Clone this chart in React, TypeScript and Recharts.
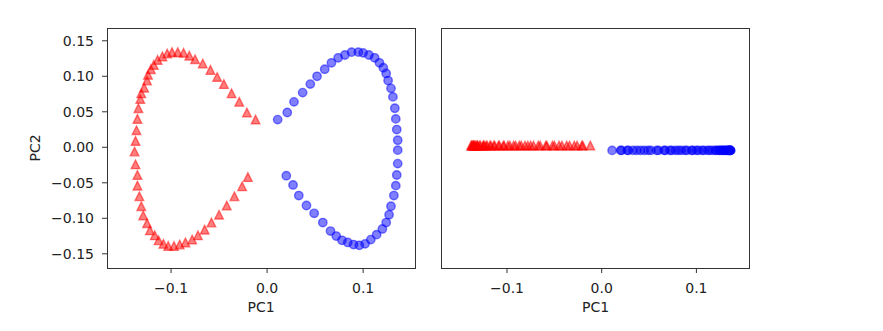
import { ScatterChart, Scatter, XAxis, YAxis } from 'recharts';

// kernel PCA projection of the two half moons
const redPC1 = [
  -0.012, -0.021, -0.029, -0.037, -0.045, -0.052, -0.059, -0.067, -0.075, -0.081,
  -0.087, -0.093, -0.099, -0.104, -0.109, -0.114, -0.118, -0.121, -0.124, -0.125,
  -0.128, -0.131, -0.132, -0.134, -0.135, -0.136, -0.137, -0.138, -0.137, -0.135,
  -0.135, -0.133, -0.131, -0.129, -0.125, -0.122, -0.117, -0.113, -0.108, -0.103,
  -0.097, -0.091, -0.085, -0.078, -0.072, -0.065, -0.058, -0.050, -0.042, -0.034,
  -0.026, -0.020,
];
const redPC2 = [
  0.039, 0.049, 0.064, 0.076, 0.089, 0.099, 0.109, 0.118, 0.124, 0.129,
  0.133, 0.134, 0.134, 0.132, 0.128, 0.123, 0.116, 0.110, 0.102, 0.094,
  0.084, 0.076, 0.068, 0.055, 0.040, 0.024, 0.009, -0.006, -0.024, -0.039,
  -0.054, -0.069, -0.083, -0.096, -0.107, -0.117, -0.124, -0.131, -0.136, -0.139,
  -0.139, -0.137, -0.134, -0.130, -0.124, -0.116, -0.106, -0.095, -0.082, -0.069,
  -0.055, -0.042,
];
const bluePC1 = [
  0.011, 0.021, 0.028, 0.037, 0.045, 0.052, 0.060, 0.067, 0.074, 0.081,
  0.088, 0.095, 0.100, 0.106, 0.112, 0.117, 0.121, 0.124, 0.126, 0.129,
  0.131, 0.133, 0.134, 0.135, 0.136, 0.136, 0.136, 0.135, 0.134, 0.132,
  0.129, 0.127, 0.124, 0.120, 0.114, 0.108, 0.102, 0.096, 0.090, 0.084,
  0.078, 0.072, 0.066, 0.058, 0.049, 0.041, 0.033, 0.027, 0.020,
];
const bluePC2 = [
  0.039, 0.049, 0.064, 0.077, 0.089, 0.100, 0.110, 0.119, 0.126, 0.130,
  0.134, 0.134, 0.133, 0.130, 0.126, 0.119, 0.112, 0.104, 0.094, 0.083,
  0.071, 0.055, 0.040, 0.025, 0.010, -0.004, -0.023, -0.039, -0.054, -0.068,
  -0.083, -0.095, -0.106, -0.115, -0.123, -0.130, -0.136, -0.138, -0.137, -0.134,
  -0.131, -0.125, -0.118, -0.106, -0.093, -0.082, -0.068, -0.053, -0.040,
];

const xTicks = [-0.1, 0, 0.1];
const yTicks = [0.15, 0.1, 0.05, 0, -0.05, -0.1, -0.15];
// right panel: the same PC1 values laid out on a strip, classes nudged apart
const stripOffset = 0.02;

const redData = redPC1.map((x, i) => ({ x, y: redPC2[i] }));
const blueData = bluePC1.map((x, i) => ({ x, y: bluePC2[i] }));
const redStrip = redPC1.map((x) => ({ x, y: stripOffset }));
const blueStrip = bluePC1.map((x) => ({ x, y: -stripOffset }));

const FONT = 'DejaVu Sans, sans-serif';
const INK = '#222';
const FRAME = '#333';
const tickStyle = { fill: INK, fontSize: 14, fontFamily: FONT };

const minus = (v: number, digits: number) => (v < 0 ? '\u2212' : '') + Math.abs(v).toFixed(digits);

const Triangle = (p: any) => {
  const { cx, cy } = p;
  const h = 4.3;
  return (
    <path
      d={`M${cx},${cy - h}L${cx - h},${cy + h}L${cx + h},${cy + h}Z`}
      fill="red" fillOpacity={0.5} stroke="red" strokeOpacity={0.5} strokeWidth={1.4}
    />
  );
};

const Dot = (p: any) => (
  <circle cx={p.cx} cy={p.cy} r={4.2}
    fill="blue" fillOpacity={0.5} stroke="blue" strokeOpacity={0.5} strokeWidth={1.4} />
);

// matplotlib-style box round each axes
const box = (left: number) => (
  <div style={{
    position: 'absolute', left, top: 28, width: 309, height: 241, boxSizing: 'border-box',
    border: `1px solid ${FRAME}`, pointerEvents: 'none',
  }} />
);

export default function App() {
  const leftX = [-0.1667, 0.154];
  const leftY = [-0.17, 0.168];
  const rightX = [-0.1697, 0.1566];
  return (
    <div style={{ position: 'absolute', left: 0, top: 0, width: 883, height: 331, background: '#fff', fontFamily: FONT }}>
      <div style={{ position: 'absolute', left: 0, top: 0 }}>
        <ScatterChart width={430} height={331} margin={{ top: 28, right: 15, bottom: 19, left: 47 }} style={{ fontFamily: FONT }}>
          <XAxis dataKey="x" type="number" domain={leftX} ticks={xTicks} allowDataOverflow
            tickFormatter={(v) => minus(v, 1)} tick={tickStyle} tickSize={5} tickMargin={10}
            tickLine={{ stroke: FRAME }} axisLine={false} height={44}
            label={{ value: 'PC1', position: 'insideBottom', offset: 0, fill: INK, fontSize: 14 }} />
          <YAxis dataKey="y" type="number" domain={leftY} ticks={yTicks} allowDataOverflow
            tickFormatter={(v) => minus(v, 2)} tick={tickStyle} tickSize={5} tickMargin={8}
            tickLine={{ stroke: FRAME }} axisLine={false} width={60} />
          <Scatter data={redData} shape={Triangle} isAnimationActive={false} />
          <Scatter data={blueData} shape={Dot} isAnimationActive={false} />
        </ScatterChart>
      </div>
      <div style={{ position: 'absolute', left: 430, top: 0 }}>
        <ScatterChart width={340} height={331} margin={{ top: 28, right: 20, bottom: 19, left: 11 }} style={{ fontFamily: FONT }}>
          <XAxis dataKey="x" type="number" domain={rightX} ticks={xTicks} allowDataOverflow
            tickFormatter={(v) => minus(v, 1)} tick={tickStyle} tickSize={5} tickMargin={10}
            tickLine={{ stroke: FRAME }} axisLine={false} height={44}
            label={{ value: 'PC1', position: 'insideBottom', offset: 0, fill: INK, fontSize: 14 }} />
          <YAxis dataKey="y" type="number" domain={[-1, 1]} width={0}
            tick={false} tickLine={false} axisLine={false} />
          <Scatter data={redStrip} shape={Triangle} isAnimationActive={false} />
          <Scatter data={blueStrip} shape={Dot} isAnimationActive={false} />
        </ScatterChart>
      </div>
      {box(107)}
      {box(441)}
      <svg width={60} height={331} style={{ position: 'absolute', left: 0, top: 0 }}>
        <text x={40} y={148} transform="rotate(-90, 40, 148)" textAnchor="middle"
          fill={INK} fontSize={14} fontFamily={FONT}>PC2</text>
      </svg>
    </div>
  );
}
